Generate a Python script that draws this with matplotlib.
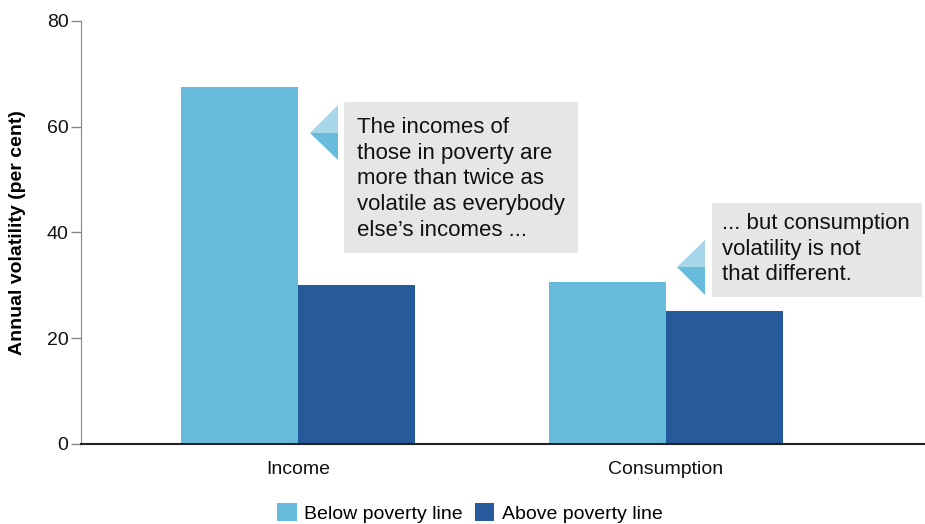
import matplotlib
matplotlib.use("Agg")
import matplotlib.pyplot as plt
from matplotlib.patches import Polygon, Rectangle
import numpy as np

plt.rcParams['font.family'] = ['Liberation Sans', 'DejaVu Sans']

categories = ["Income", "Consumption"]
below = [67.6, 30.6]
above = [30.1, 25.2]
series_names = ["Below poverty line", "Above poverty line"]
yticks = [0, 20, 40, 60, 80]

c_light = "#67bcdb"
c_dark = "#265a9a"
c_tri_top = "#a6d6e8"

W, H = 925, 524
fig = plt.figure(figsize=(W / 100, H / 100), dpi=100)
ax = fig.add_axes([81 / W, 1 - 444 / H, 1 - 81 / W, (444 - 21) / H])

x = np.arange(len(categories))
bw = 0.319
b1 = ax.bar(x - bw / 2, below, bw, color=c_light, label=series_names[0])
b2 = ax.bar(x + bw / 2, above, bw, color=c_dark, label=series_names[1])

ax.set_xlim(-0.59, 1.704)
ax.set_ylim(0, 80)
ax.set_yticks(yticks)
ax.set_xticks(x)
ax.set_xticklabels(categories, fontsize=14)
ax.tick_params(axis='x', length=0, pad=12)
ax.tick_params(axis='y', length=7, width=1, color="#888888", labelsize=14, pad=2)
for lab in ax.get_yticklabels() + ax.get_xticklabels():
    lab.set_color("#111111")
ax.spines['top'].set_visible(False)
ax.spines['right'].set_visible(False)
ax.spines['left'].set_color("#888888")
ax.spines['bottom'].set_color("#222222")
ax.spines['bottom'].set_linewidth(1.5)
ax.set_ylabel("Annual volatility (per cent)", fontsize=14, fontweight='bold', labelpad=15)

def px(xp, yp):
    return (xp / W, 1 - yp / H)

def callout(box, tri, text, text_xy):
    x0, y0, x1, y1 = box
    fig.patches.append(Rectangle(px(x0, y1), (x1 - x0) / W, (y1 - y0) / H,
                                 transform=fig.transFigure, facecolor="#e6e6e6",
                                 edgecolor="none"))
    tx, bx, ty, my, by = tri
    fig.patches.append(Polygon([px(bx, ty), px(tx, my), px(bx, my)], closed=True,
                               transform=fig.transFigure, facecolor=c_tri_top, edgecolor="none"))
    fig.patches.append(Polygon([px(bx, my), px(tx, my), px(bx, by)], closed=True,
                               transform=fig.transFigure, facecolor=c_light, edgecolor="none"))
    fig.text(*px(*text_xy), text, fontsize=16, va='top', ha='left', color="#111111",
             linespacing=1.29)

callout((344, 102, 578, 253), (310, 338, 105, 133, 160),
        "The incomes of\nthose in poverty are\nmore than twice as\nvolatile as everybody\nelse\u2019s incomes ...",
        (357, 117))
callout((712, 203, 922, 297), (677, 705, 240, 267, 295),
        "... but consumption\nvolatility is not\nthat different.",
        (722, 213))

fig.legend(handles=[b1, b2], labels=series_names, loc='lower center',
           bbox_to_anchor=(0.508, -0.031), ncol=2, frameon=False, fontsize=14,
           handlelength=1.0, handleheight=1.0, handletextpad=0.4, columnspacing=0.6)

fig.savefig("out.png", dpi=100)
